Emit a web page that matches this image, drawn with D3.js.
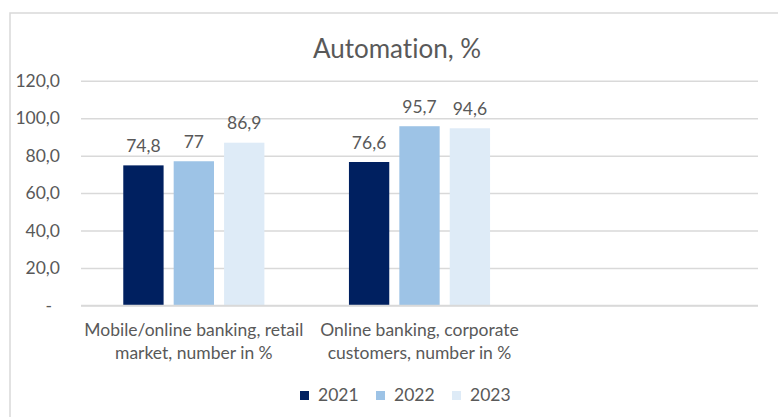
<!DOCTYPE html>
<html>
<head>
<meta charset="utf-8">
<script src="https://cdn.jsdelivr.net/npm/d3@7/dist/d3.min.js"></script>
<style>
  html, body { margin: 0; padding: 0; background: #fff; }
  svg { display: block; font-family: Lato, "Open Sans", sans-serif; font-variant-ligatures: none; }
</style>
</head>
<body>
<svg id="chart" width="778" height="417"></svg>
<script>
// Chart data
const title = "Automation, %";
const categories = [
  ["Mobile/online banking, retail", "market, number in %"],
  ["Online banking, corporate", "customers, number in %"],
  [""]
];
const years = ["2021", "2022", "2023"];
const values2021 = [74.8, 76.6, null];
const values2022 = [77, 95.7, null];
const values2023 = [86.9, 94.6, null];
const valueLabels2021 = ["74,8", "76,6", null];
const valueLabels2022 = ["77", "95,7", null];
const valueLabels2023 = ["86,9", "94,6", null];
const yTicks = [0, 20, 40, 60, 80, 100, 120];
const colors = ["#002060", "#9dc3e6", "#deebf7"];

const series = [values2021, values2022, values2023];
const seriesLabels = [valueLabels2021, valueLabels2022, valueLabels2023];

const svg = d3.select("#chart");
const textColor = "#595959";
const gridColor = "#d9d9d9";

// Outer chart frame
svg.append("rect")
  .attr("x", 10).attr("y", 13)
  .attr("width", 800).attr("height", 440)
  .attr("fill", "none")
  .attr("stroke", gridColor)
  .attr("stroke-width", 1.5);

const plot = { left: 81, right: 758, top: 80.7, bottom: 305.5 };

const y = d3.scaleLinear().domain([0, 120]).range([plot.bottom, plot.top]);
const catKeys = categories.map((c, i) => i);
const x0 = d3.scaleBand().domain(catKeys).range([plot.left, plot.right])
  .paddingInner(0.33).paddingOuter(0.165);
const x1 = d3.scaleBand().domain(years).range([0, x0.bandwidth()])
  .paddingInner(0.2).paddingOuter(0.1);

// Title
svg.append("text")
  .attr("x", 397).attr("y", 57.5)
  .attr("text-anchor", "middle")
  .attr("fill", textColor)
  .attr("font-size", 26)
  .text(title);

// Gridlines
const grid = d3.axisLeft(y).tickValues(yTicks)
  .tickSize(-(plot.right - plot.left)).tickFormat("");
svg.append("g")
  .attr("transform", `translate(${plot.left},0)`)
  .call(grid)
  .call(g => g.select(".domain").remove())
  .call(g => g.selectAll(".tick line")
    .attr("stroke", gridColor).attr("stroke-width", 1.5));

// Y axis labels
const fmt = d => d === 0 ? "-" : d3.format(".1f")(d).replace(".", ",");
const yAxis = d3.axisLeft(y).tickValues(yTicks).tickSize(0).tickPadding(21).tickFormat(fmt);
svg.append("g")
  .attr("transform", `translate(${plot.left},0)`)
  .call(yAxis)
  .call(g => g.select(".domain").remove())
  .call(g => g.selectAll(".tick text")
    .attr("fill", textColor)
    .attr("font-size", 17.5)
    .attr("font-family", "Lato, sans-serif")
    .attr("dx", d => d === 0 ? -8 : 0));

// Bars
const groups = svg.append("g").selectAll("g")
  .data(catKeys)
  .join("g")
  .attr("transform", i => `translate(${x0(i)},0)`);

groups.selectAll("rect")
  .data(i => years.map((yr, k) => ({ yr, k, v: series[k][i] })).filter(d => d.v != null))
  .join("rect")
  .attr("x", d => x1(d.yr))
  .attr("width", x1.bandwidth())
  .attr("y", d => y(d.v))
  .attr("height", d => y(0) - y(d.v))
  .attr("fill", d => colors[d.k]);

groups.selectAll("text.value")
  .data(i => years.map((yr, k) => ({ yr, k, v: series[k][i], label: seriesLabels[k][i] })).filter(d => d.v != null))
  .join("text")
  .attr("class", "value")
  .attr("x", d => x1(d.yr) + x1.bandwidth() / 2)
  .attr("y", d => y(d.v) - 13.5)
  .attr("text-anchor", "middle")
  .attr("fill", textColor)
  .attr("font-size", 17.5)
  .text(d => d.label);

// X axis baseline
svg.append("line")
  .attr("x1", plot.left).attr("x2", plot.right)
  .attr("y1", y(0)).attr("y2", y(0))
  .attr("stroke", gridColor).attr("stroke-width", 1.5);

// Category labels
const catText = svg.append("g").selectAll("text")
  .data(catKeys)
  .join("text")
  .attr("text-anchor", "middle")
  .attr("fill", textColor)
  .attr("font-size", 17.5)
  .attr("x", i => x0(i) + x0.bandwidth() / 2)
  .attr("y", 336);
catText.selectAll("tspan")
  .data(i => categories[i])
  .join("tspan")
  .attr("x", function () { return d3.select(this.parentNode).attr("x"); })
  .attr("dy", (d, j) => j === 0 ? 0 : 23)
  .text(d => d);

// Legend
const legend = svg.append("g").selectAll("g")
  .data(years)
  .join("g")
  .attr("transform", (d, k) => `translate(${300 + k * 76},391)`);
legend.append("rect")
  .attr("width", 9).attr("height", 9)
  .attr("fill", (d, k) => colors[k]);
legend.append("text")
  .attr("x", 18).attr("y", 10)
  .attr("fill", textColor)
  .attr("font-size", 17.5)
  .text(d => d);
</script>
</body>
</html>
